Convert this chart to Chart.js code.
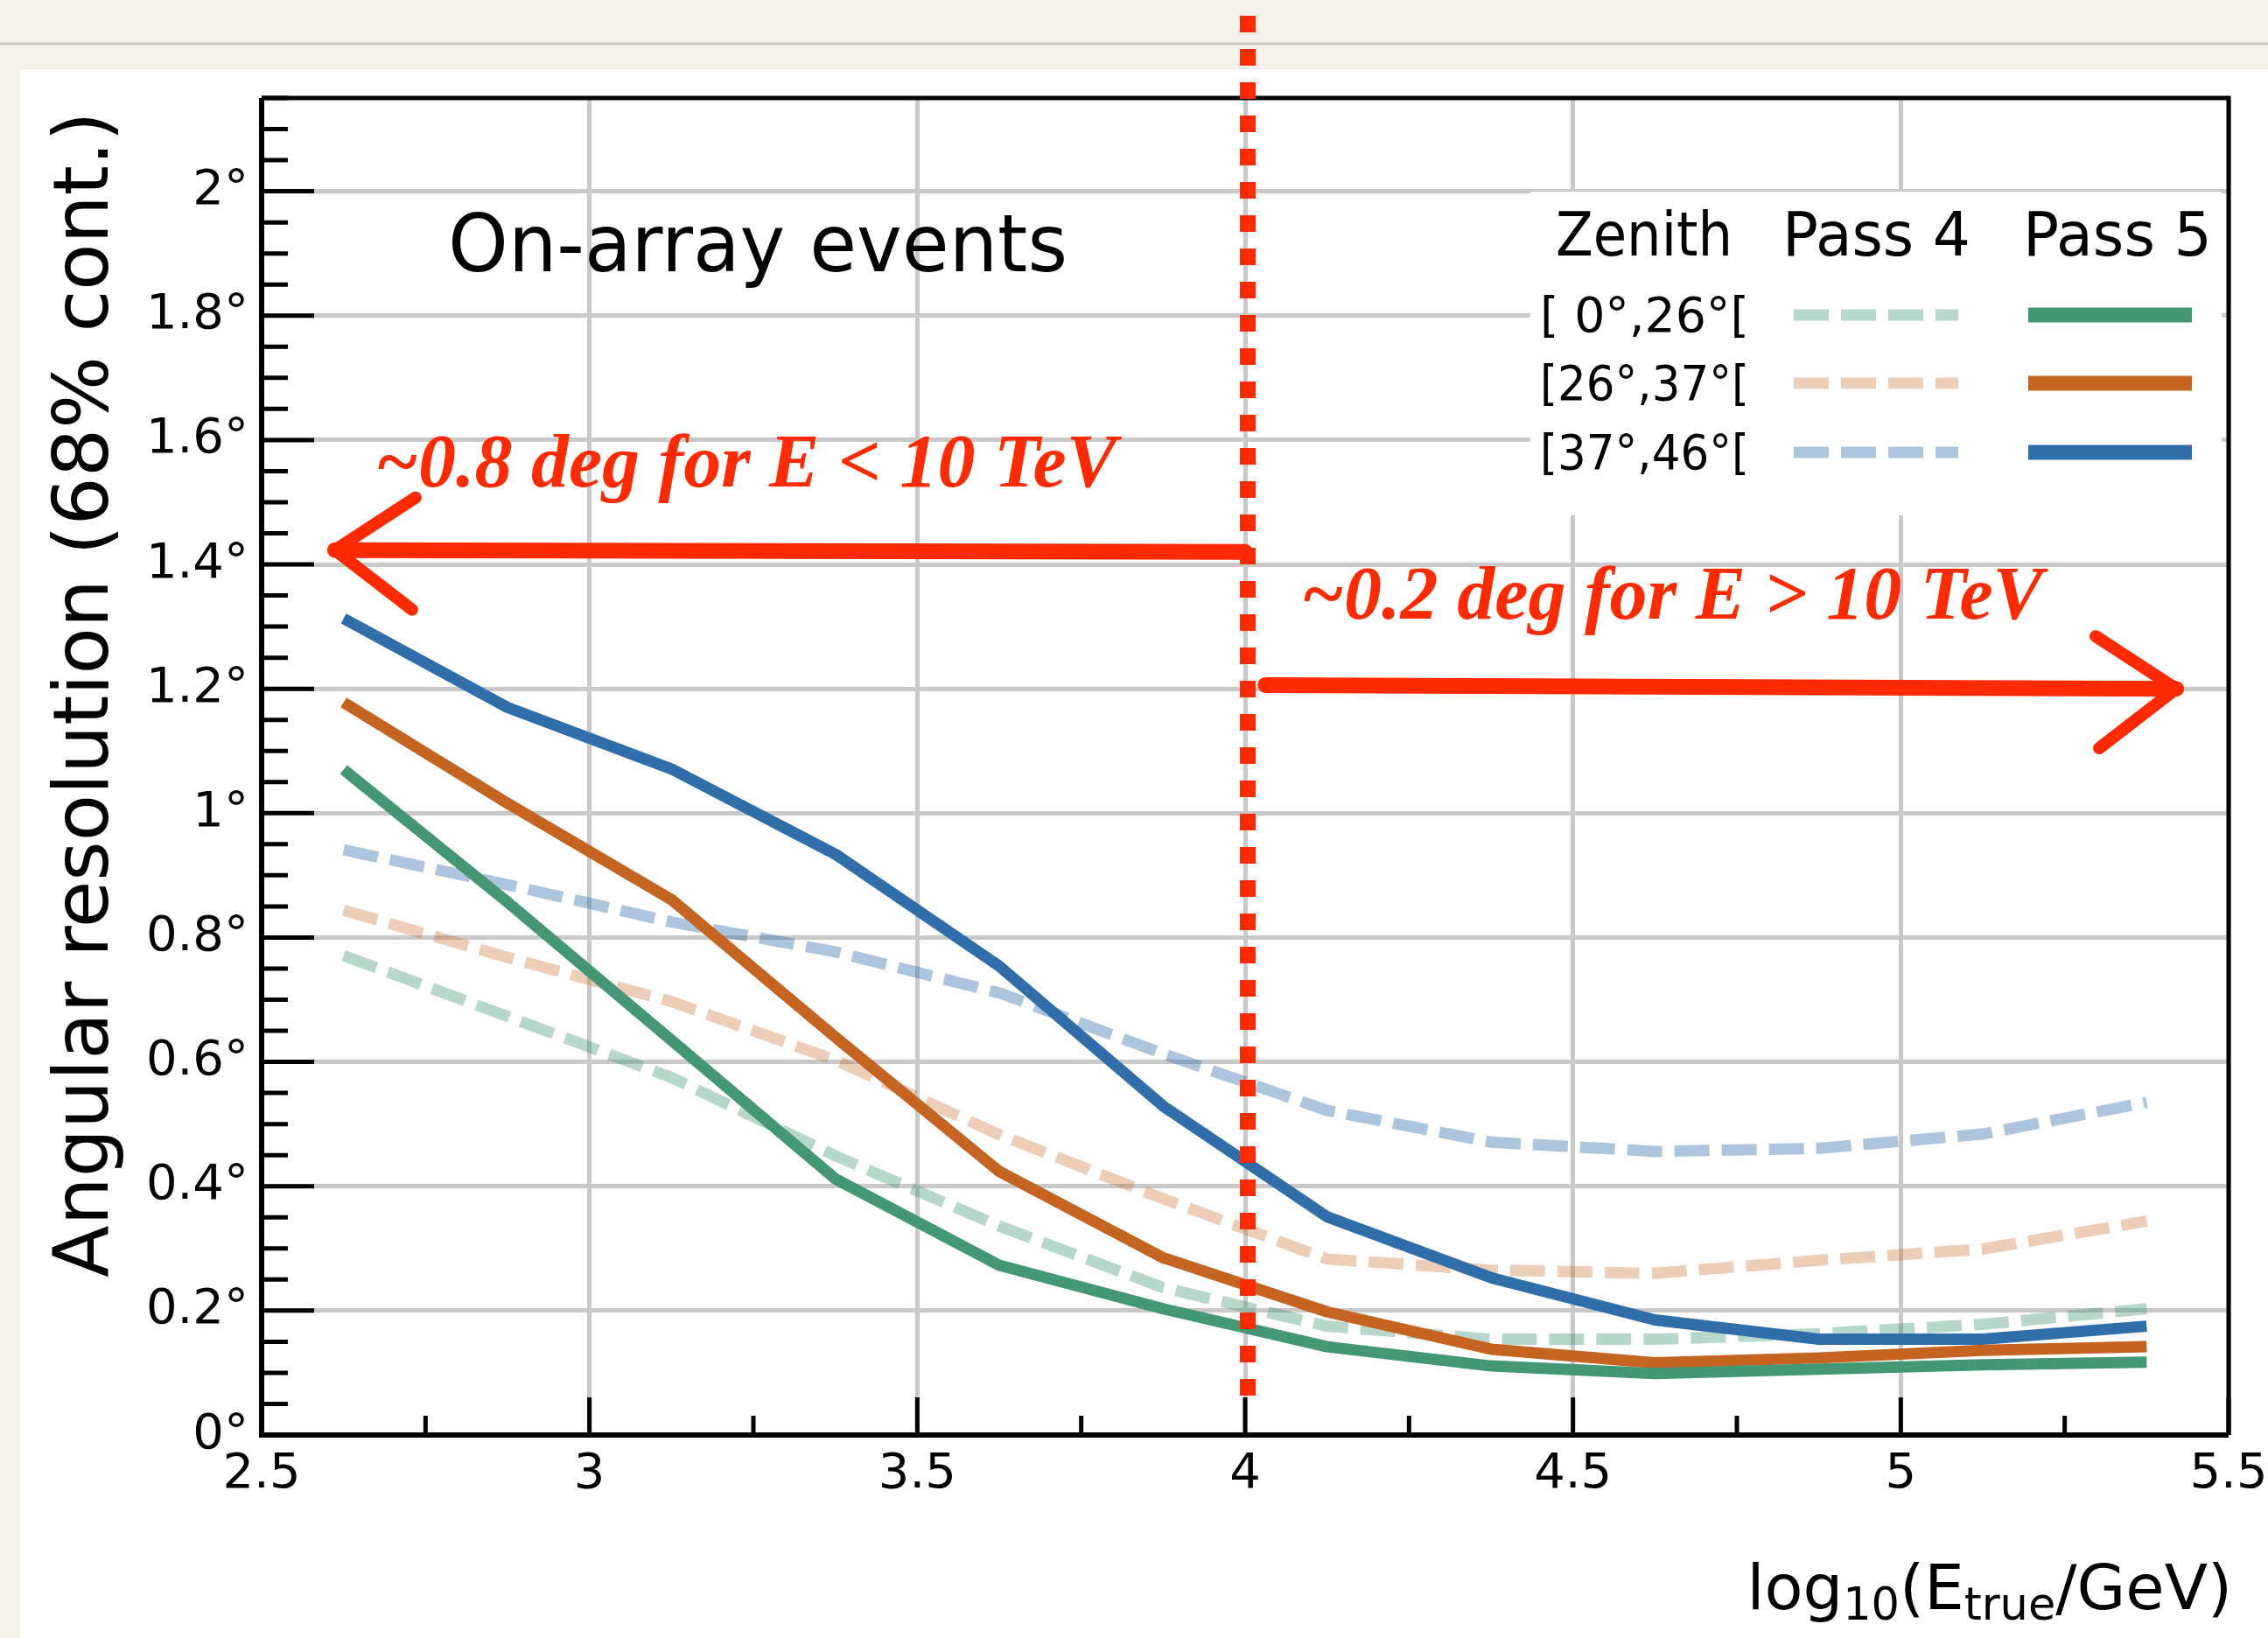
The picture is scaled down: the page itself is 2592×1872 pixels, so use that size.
<!DOCTYPE html>
<html>
<head>
<meta charset="utf-8">
<script src="https://cdn.jsdelivr.net/npm/chart.js@4.4.1/dist/chart.umd.min.js"></script>
<style>
html, body { margin: 0; padding: 0; background: #f4f1eb; }
canvas { display: block; }
</style>
</head>
<body>
<canvas id="chart" width="2592" height="1872"></canvas>
<script>
// log10(E_true / GeV) bin centres
const energy = [2.625, 2.875, 3.125, 3.375, 3.625, 3.875, 4.125, 4.375, 4.625, 4.875, 5.125, 5.375];

// angular resolution (deg), Pass 5
const pass5Zen0 = [1.07, 0.857, 0.635, 0.412, 0.273, 0.203, 0.142, 0.111, 0.099, 0.106, 0.113, 0.117];
const pass5Zen26 = [1.178, 1.016, 0.861, 0.64, 0.424, 0.285, 0.198, 0.138, 0.116, 0.124, 0.136, 0.142];
const pass5Zen37 = [1.313, 1.17, 1.071, 0.934, 0.754, 0.529, 0.351, 0.253, 0.185, 0.154, 0.154, 0.175];

// angular resolution (deg), Pass 4
const pass4Zen0 = [0.771, 0.673, 0.575, 0.449, 0.336, 0.237, 0.175, 0.154, 0.154, 0.163, 0.178, 0.203];
const pass4Zen26 = [0.844, 0.768, 0.697, 0.603, 0.483, 0.38, 0.283, 0.265, 0.26, 0.281, 0.299, 0.344];
const pass4Zen37 = [0.941, 0.885, 0.825, 0.777, 0.711, 0.613, 0.522, 0.471, 0.456, 0.461, 0.484, 0.535];

const zenithLabels = ["[ 0°,26°[", "[26°,37°[", "[37°,46°["];
const xTicks = [2.5, 3, 3.5, 4, 4.5, 5, 5.5];
const yTicks = [0, 0.2, 0.4, 0.6, 0.8, 1, 1.2, 1.4, 1.6, 1.8, 2];
const thresholdLog10E = 4;

const green = "#439774", orange = "#c56320", blue = "#306eaa";
const greenLight = "rgba(67,151,116,0.38)";
const orangeLight = "rgba(197,99,32,0.32)";
const blueLight = "rgba(48,110,170,0.40)";
const red = "#ff2a00";

function pts(ys) {
    return ys.map((y, i) => ({ x: energy[i], y: y }));
}

function lineSet(label, ys, color, dashed) {
    return {
        label: label,
        data: pts(ys),
        borderColor: color,
        borderWidth: 13,
        borderDash: dashed ? [40, 14] : [],
        borderJoinStyle: "round",
        pointRadius: 0,
        tension: 0,
        fill: false,
        order: dashed ? 2 : 1
    };
}

function fitText(ctx, text, x, y, width) {
    const w = ctx.measureText(text).width;
    ctx.save();
    ctx.translate(x, y);
    ctx.scale(width / w, 1);
    ctx.fillText(text, 0, 0);
    ctx.restore();
}

const frame = {
    id: "frame",
    beforeDraw(chart) {
        const ctx = chart.ctx;
        ctx.save();
        ctx.fillStyle = "#f4f1eb";
        ctx.fillRect(0, 0, chart.width, chart.height);
        ctx.strokeStyle = "#cbc8c2";
        ctx.lineWidth = 3;
        ctx.beginPath();
        ctx.moveTo(0, 50);
        ctx.lineTo(chart.width, 50);
        ctx.stroke();
        ctx.fillStyle = "#ffffff";
        ctx.fillRect(23, 79, chart.width - 23, chart.height - 79);
        ctx.restore();
    },
    beforeDatasetsDraw(chart) {
        // legend box hides the grid behind it
        const ctx = chart.ctx;
        ctx.save();
        ctx.fillStyle = "#ffffff";
        ctx.fillRect(1749, 219, 790, 370);

        ctx.fillStyle = "#000";
        ctx.textBaseline = "alphabetic";
        ctx.font = '70px "DejaVu Sans"';
        fitText(ctx, "Zenith", 1778, 292, 202);
        fitText(ctx, "Pass 4", 2037, 292, 215);
        fitText(ctx, "Pass 5", 2312, 292, 216);

        const rows = [360, 438, 517];
        const ds = chart.data.datasets;
        ctx.font = '56px "DejaVu Sans"';
        rows.forEach((ry, i) => {
            ctx.fillStyle = "#000";
            fitText(ctx, zenithLabels[i], 1760, ry + 19, 239);
            const dashed = ds[i];
            const solid = ds[i + 3];
            ctx.lineCap = "butt";
            ctx.strokeStyle = dashed.borderColor;
            ctx.lineWidth = 13;
            ctx.setLineDash([40, 14]);
            ctx.beginPath();
            ctx.moveTo(2050, ry);
            ctx.lineTo(2238, ry);
            ctx.stroke();
            ctx.setLineDash([]);
            ctx.strokeStyle = solid.borderColor;
            ctx.lineWidth = 17;
            ctx.beginPath();
            ctx.moveTo(2318, ry);
            ctx.lineTo(2505, ry);
            ctx.stroke();
        });
        ctx.restore();
    },
    afterDatasetsDraw(chart) {
        const ctx = chart.ctx;
        const a = chart.chartArea;
        const xs = chart.scales.x, ys = chart.scales.y;
        ctx.save();
        ctx.strokeStyle = "#000";
        ctx.lineCap = "butt";

        // ticks inside the frame
        ctx.lineWidth = 5;
        ctx.beginPath();
        for (let v = 0; v <= 2.151; v += 0.05) {
            const major = Math.abs(v / 0.2 - Math.round(v / 0.2)) < 1e-6;
            const py = ys.getPixelForValue(v);
            ctx.moveTo(a.left, py);
            ctx.lineTo(a.left + (major ? 60 : 30), py);
        }
        for (let v = 2.5; v <= 5.501; v += 0.25) {
            const major = Math.abs(v / 0.5 - Math.round(v / 0.5)) < 1e-6;
            const px = xs.getPixelForValue(v);
            ctx.moveTo(px, a.bottom);
            ctx.lineTo(px, a.bottom - (major ? 43 : 22));
        }
        ctx.stroke();

        ctx.lineWidth = 6;
        ctx.beginPath();
        ctx.moveTo(a.left, a.top);
        ctx.lineTo(a.left, a.bottom);
        ctx.lineTo(a.right, a.bottom);
        ctx.stroke();
        ctx.lineWidth = 5;
        ctx.beginPath();
        ctx.moveTo(a.left, a.top);
        ctx.lineTo(a.right, a.top);
        ctx.lineTo(a.right, a.bottom);
        ctx.stroke();

        // axis titles
        ctx.fillStyle = "#000";
        ctx.textBaseline = "alphabetic";
        ctx.save();
        ctx.translate(123, 1460);
        ctx.rotate(-Math.PI / 2);
        ctx.font = '87px "DejaVu Sans"';
        ctx.textAlign = "left";
        ctx.fillText("Angular resolution (68% cont.)", 0, 0);
        ctx.restore();

        const parts = [
            ["log", 72, 0], ["10", 51, 12], ["(E", 72, 0], ["true", 51, 12], ["/GeV)", 72, 0]
        ];
        let total = 0;
        parts.forEach(p => {
            ctx.font = p[1] + 'px "DejaVu Sans"';
            total += ctx.measureText(p[0]).width;
        });
        let tx = 2551 - total;
        parts.forEach(p => {
            ctx.font = p[1] + 'px "DejaVu Sans"';
            ctx.fillText(p[0], tx, 1839 + p[2]);
            tx += ctx.measureText(p[0]).width;
        });

        ctx.font = '90px "DejaVu Sans"';
        fitText(ctx, "On-array events", 512, 310, 708);
        ctx.restore();
    },
    afterDraw(chart) {
        const ctx = chart.ctx;
        const xs = chart.scales.x, ys = chart.scales.y;
        ctx.save();

        // threshold at 10 TeV
        const px = xs.getPixelForValue(thresholdLog10E);
        ctx.strokeStyle = red;
        ctx.lineWidth = 18;
        ctx.lineCap = "butt";
        ctx.setLineDash([19, 19]);
        ctx.lineDashOffset = 0;
        ctx.beginPath();
        ctx.moveTo(px + 3, 1595);
        ctx.lineTo(px + 3, 10);
        ctx.stroke();
        ctx.setLineDash([]);

        // hand-drawn arrows
        ctx.lineCap = "round";
        ctx.lineJoin = "round";
        function arrow(x0, y0, x1, y1, dir) {
            const ax = xs.getPixelForValue(x0), ay = ys.getPixelForValue(y0);
            const bx = xs.getPixelForValue(x1), by = ys.getPixelForValue(y1);
            ctx.lineWidth = 18;
            ctx.beginPath();
            ctx.moveTo(ax, ay);
            ctx.lineTo(bx, by);
            ctx.stroke();
            ctx.lineWidth = 14;
            ctx.beginPath();
            ctx.moveTo(bx - dir * 92, by - 60);
            ctx.lineTo(bx, by);
            ctx.lineTo(bx - dir * 88, by + 68);
            ctx.stroke();
        }
        arrow(4.0, 1.42, 2.612, 1.423, -1);
        arrow(4.031, 1.206, 5.42, 1.2, 1);

        ctx.fillStyle = red;
        ctx.font = 'italic bold 86px "Liberation Serif"';
        fitText(ctx, "~0.8 deg for E < 10 TeV", 429, 556, 847);
        fitText(ctx, "~0.2 deg for E > 10 TeV", 1487, 707, 848);
        ctx.restore();
    }
};

const tickFont = { family: "DejaVu Sans", size: 56 };

new Chart(document.getElementById("chart"), {
    type: "line",
    data: {
        datasets: [
            lineSet("Pass 4 [0,26[", pass4Zen0, greenLight, true),
            lineSet("Pass 4 [26,37[", pass4Zen26, orangeLight, true),
            lineSet("Pass 4 [37,46[", pass4Zen37, blueLight, true),
            lineSet("Pass 5 [0,26[", pass5Zen0, green, false),
            lineSet("Pass 5 [26,37[", pass5Zen26, orange, false),
            lineSet("Pass 5 [37,46[", pass5Zen37, blue, false)
        ]
    },
    options: {
        responsive: false,
        animation: false,
        devicePixelRatio: 1,
        layout: { padding: { top: 112, right: 45, bottom: 0, left: 0 } },
        plugins: { legend: { display: false }, tooltip: { enabled: false } },
        scales: {
            x: {
                type: "linear",
                min: 2.5,
                max: 5.5,
                afterBuildTicks: s => { s.ticks = xTicks.map(v => ({ value: v })); },
                afterFit: s => { s.height = 232; s.paddingLeft = 0; s.paddingRight = 0; },
                grid: { color: "#c9c9c9", lineWidth: 5, drawTicks: false },
                border: { display: false },
                ticks: {
                    font: tickFont,
                    color: "#000",
                    padding: 12,
                    maxRotation: 0,
                    autoSkip: false,
                    callback: v => String(Math.round(v * 10) / 10)
                }
            },
            y: {
                type: "linear",
                min: 0,
                max: 2.15,
                afterBuildTicks: s => { s.ticks = yTicks.map(v => ({ value: v })); },
                afterFit: s => { s.width = 299; s.paddingTop = 0; s.paddingBottom = 0; },
                grid: { color: "#c9c9c9", lineWidth: 5, drawTicks: false },
                border: { display: false },
                ticks: {
                    font: tickFont,
                    color: "#000",
                    padding: 15,
                    autoSkip: false,
                    callback: v => (Math.round(v * 10) / 10) + "°"
                }
            }
        }
    },
    plugins: [frame]
});
</script>
</body>
</html>
